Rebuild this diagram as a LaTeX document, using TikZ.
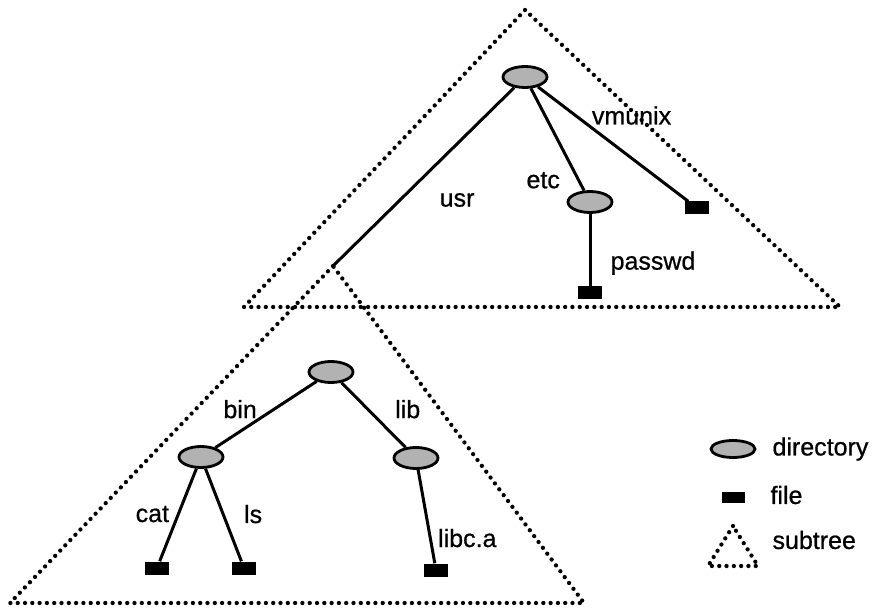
\documentclass[tikz,border=0pt]{standalone}
\usepackage{fontspec}
\setmainfont{Liberation Sans}[FakeBold=0.7]
\usetikzlibrary{shapes.geometric}
\tikzstyle{dirnode}=[ellipse, draw, line width=2.8pt, fill=gray!60, inner sep=0pt, minimum width=44pt, minimum height=21pt]
\tikzstyle{filenode}=[rectangle, fill=black, inner sep=0pt, minimum width=24pt, minimum height=13pt]
\tikzstyle{subtree}=[line width=4.3pt, dash pattern=on 0pt off 7.3pt, line cap=round]
\newcommand{\dirnode}{\node[dirnode]}
\newcommand{\filenode}{\node[filenode]}

\begin{document}
\begin{tikzpicture}[x=1pt, y=-1pt
    ,every node/.style={font=\fontsize{25}{29}\selectfont}
    ,every edge/.style={draw, line width=3pt}
]
\useasboundingbox (0,0) rectangle (878,612);
% upper tree
\dirnode (root) at (525,77) {};
\dirnode (etc) at (590,202) {};
\filenode (vmunix) at (697,208) {};
\filenode (passwd) at (590,293) {};
\coordinate (usr) at (333,266);
% lower tree
\dirnode (usrroot) at (331,372) {};
\dirnode (bin) at (201,457) {};
\dirnode (lib) at (416,458) {};
\filenode (cat) at (157,568) {};
\filenode (ls) at (244,568) {};
\filenode (libc) at (436,570) {};
\path
(root) edge node [pos=.63, shift={(57,0)}]  {usr}    (usr)
       edge node [pos=.89, shift={(-35,1)}] {etc}    (etc)
       edge node [pos=.25, shift={(56,0)}]  {vmunix} (vmunix)
(etc)  edge node [pos=.68, shift={(63,0)}]  {passwd} (passwd)
(usrroot) edge node [pos=.42, shift={(-34,0)}] {bin} (bin)
          edge node [pos=.41, shift={(40,0)}]  {lib} (lib)
(bin)  edge node [pos=.49, shift={(-26,0)}] {cat}    (cat)
       edge node [pos=.49, shift={(30,0)}]  {ls}     (ls)
(lib)  edge node [pos=.73, shift={(37,0)}]  {libc.a} (libc)
;
% subtrees
\draw[subtree] (525,10) -- (244,307) -- (840,307) -- cycle;
\draw[subtree] (usr) -- (10,603) -- (584,603) -- cycle;
% legend
\dirnode[minimum height=17pt] (legdir) at (733,449) {};
\node[right] (legdirtext) at (769,449) {directory};
\filenode[minimum width=23pt, minimum height=11pt] (legfile) at (733,497) {};
\node[right] (legfiletext) at (767,495) {file};
\draw[subtree] (733,526) -- (708,566) -- (758,566) -- cycle;
\node[right] (legsubtext) at (769,540) {subtree};
\end{tikzpicture}
\end{document}
